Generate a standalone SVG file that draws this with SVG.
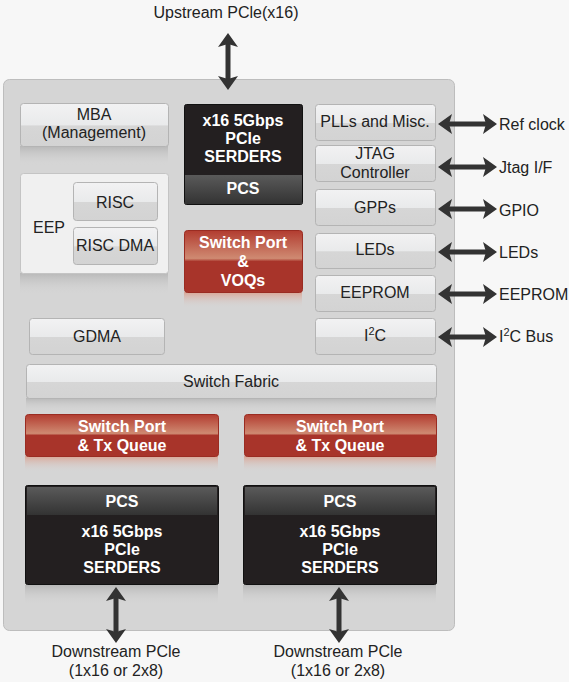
<svg xmlns="http://www.w3.org/2000/svg" width="569" height="682" viewBox="0 0 569 682">
<defs>
<style>
text{font-family:"Liberation Sans",Arial,sans-serif;font-size:16px;text-anchor:middle;fill:#222}
.w{fill:#fff;font-weight:bold}
.lbl{text-anchor:start}
.gbox{fill:url(#gray);stroke:#b4b4b4;stroke-width:1}
.rbox{fill:url(#red);stroke:#9a2c22;stroke-width:1}
.bbox{fill:#231f20;stroke:#111;stroke-width:1}
.arr{stroke:#333;stroke-width:5;fill:none;marker-start:url(#ah);marker-end:url(#ah)}
.refl{fill:url(#refl)}
.reflr{fill:url(#reflr)}
</style>
<linearGradient id="gray" x1="0" y1="0" x2="0" y2="1">
<stop offset="0" stop-color="#f2f2f3"/><stop offset="0.5" stop-color="#e9eaeb"/><stop offset="0.52" stop-color="#d6d6d6"/><stop offset="1" stop-color="#d3d3d3"/>
</linearGradient>
<linearGradient id="red" x1="0" y1="0" x2="0" y2="1">
<stop offset="0" stop-color="#b23c30"/><stop offset="0.45" stop-color="#cf8a72"/><stop offset="0.5" stop-color="#a8342a"/><stop offset="1" stop-color="#a8342a"/>
</linearGradient>
<linearGradient id="pcs" x1="0" y1="0" x2="0" y2="1">
<stop offset="0" stop-color="#5a5a5a"/><stop offset="1" stop-color="#333"/>
</linearGradient>
<linearGradient id="refl" x1="0" y1="0" x2="0" y2="1">
<stop offset="0" stop-color="#b8b8b8"/><stop offset="1" stop-color="#d6d6d6" stop-opacity="0"/>
</linearGradient>
<linearGradient id="reflr" x1="0" y1="0" x2="0" y2="1">
<stop offset="0" stop-color="#d9a595"/><stop offset="1" stop-color="#d6d6d6" stop-opacity="0"/>
</linearGradient>
<marker id="ah" viewBox="0 0 14 20" markerWidth="14" markerHeight="20" refX="4" refY="10" orient="auto-start-reverse" markerUnits="userSpaceOnUse">
<path d="M0,0 L14,10 L0,20 L3,10 Z" fill="#333"/>
</marker>
</defs>
<rect x="0" y="0" width="569" height="682" fill="#f7f7f7"/>
<g id="chip">
<rect x="3.5" y="79.5" width="451" height="551" rx="6" fill="#d5d5d5" stroke="#bdbdbd"/>
</g>
<g id="mba">
<rect class="refl" x="20" y="146" width="148" height="20"/>
<rect class="gbox" x="20.5" y="103.5" width="148" height="43" rx="3"/>
<text x="94" y="120">MBA</text><text x="94" y="138">(Management)</text>
</g>
<g id="serdes-up">
<rect class="bbox" x="184.5" y="104.5" width="118" height="100" rx="2"/>
<rect x="185" y="175" width="117" height="29" fill="url(#pcs)"/>
<text class="w" x="243" y="126">x16 5Gbps</text><text class="w" x="243" y="144">PCle</text><text class="w" x="243" y="162">SERDERS</text>
<text class="w" x="243" y="194">PCS</text>
</g>
<g id="eep">
<rect class="refl" x="20" y="273" width="148" height="22"/>
<rect x="20.5" y="173.5" width="148" height="100" rx="3" fill="#f0f0f0" stroke="#c4c4c4"/>
<text x="49" y="233">EEP</text>
<g id="risc"><rect class="gbox" x="73.5" y="182.5" width="84" height="38" rx="3"/><text x="115" y="208">RISC</text></g>
<g id="riscdma"><rect class="gbox" x="73.5" y="227.5" width="84" height="37" rx="3"/><text x="115" y="251">RISC DMA</text></g>
</g>
<g id="voq">
<rect class="reflr" x="184" y="292" width="118" height="16"/>
<rect class="rbox" x="184.5" y="230.5" width="118" height="62" rx="3"/>
<text class="w" x="243" y="248">Switch Port</text><text class="w" x="243" y="267">&amp;</text><text class="w" x="243" y="286">VOQs</text>
</g>
<g id="gdma">
<rect class="gbox" x="29.5" y="318.5" width="135" height="36" rx="3"/><text x="97" y="342">GDMA</text>
</g>
<g id="plls"><rect class="gbox" x="315.5" y="104.5" width="120" height="36" rx="3"/><text x="375" y="127">PLLs and Misc.</text></g>
<g id="jtag"><rect class="gbox" x="315.5" y="145.5" width="120" height="36" rx="3"/><text x="375" y="159">JTAG</text><text x="375" y="178">Controller</text></g>
<g id="gpps"><rect class="gbox" x="315.5" y="189.5" width="120" height="36" rx="3"/><text x="375" y="213">GPPs</text></g>
<g id="leds"><rect class="gbox" x="315.5" y="233.5" width="120" height="35" rx="3"/><text x="375" y="255">LEDs</text></g>
<g id="eeprom"><rect class="gbox" x="315.5" y="275.5" width="120" height="36" rx="3"/><text x="375" y="298">EEPROM</text></g>
<g id="i2c"><rect class="gbox" x="315.5" y="318.5" width="120" height="36" rx="3"/><text x="375" y="341">I<tspan dy="-6" font-size="11">2</tspan><tspan dy="6">C</tspan></text></g>
<g id="fabric">
<rect class="refl" x="26" y="398" width="410" height="14"/>
<rect class="gbox" x="26.5" y="364.5" width="410" height="34" rx="3"/><text x="231" y="387">Switch Fabric</text>
</g>
<g id="txq-left">
<rect class="reflr" x="25" y="456" width="193" height="16"/>
<rect class="rbox" x="25.5" y="414.5" width="193" height="42" rx="3"/>
<text class="w" x="122" y="432">Switch Port</text><text class="w" x="122" y="451">&amp; Tx Queue</text>
</g>
<g id="txq-right">
<rect class="reflr" x="244" y="456" width="192" height="16"/>
<rect class="rbox" x="244.5" y="414.5" width="192" height="42" rx="3"/>
<text class="w" x="340" y="432">Switch Port</text><text class="w" x="340" y="451">&amp; Tx Queue</text>
</g>
<g id="serdes-left">
<rect class="refl" x="25" y="585" width="193" height="20"/>
<rect class="bbox" x="25.5" y="485.5" width="193" height="99" rx="2"/>
<rect x="27" y="487" width="190" height="28" fill="url(#pcs)"/>
<text class="w" x="122" y="507">PCS</text>
<text class="w" x="122" y="537">x16 5Gbps</text><text class="w" x="122" y="555">PCle</text><text class="w" x="122" y="573">SERDERS</text>
</g>
<g id="serdes-right">
<rect class="refl" x="243" y="585" width="193" height="20"/>
<rect class="bbox" x="243.5" y="485.5" width="193" height="99" rx="2"/>
<rect x="245" y="487" width="190" height="28" fill="url(#pcs)"/>
<text class="w" x="340" y="507">PCS</text>
<text class="w" x="340" y="537">x16 5Gbps</text><text class="w" x="340" y="555">PCle</text><text class="w" x="340" y="573">SERDERS</text>
</g>
<g id="connectors">
<line class="arr" x1="228" y1="43" x2="228" y2="80"/>
<line class="arr" x1="448" y1="124" x2="487" y2="124"/>
<line class="arr" x1="448" y1="167" x2="487" y2="167"/>
<line class="arr" x1="448" y1="209" x2="487" y2="209"/>
<line class="arr" x1="448" y1="252" x2="487" y2="252"/>
<line class="arr" x1="448" y1="294" x2="487" y2="294"/>
<line class="arr" x1="448" y1="337" x2="487" y2="337"/>
<line class="arr" x1="116" y1="597" x2="116" y2="633"/>
<line class="arr" x1="339" y1="597" x2="339" y2="633"/>
</g>
<g id="labels">
<text x="226" y="18">Upstream PCle(x16)</text>
<text class="lbl" x="499" y="130">Ref clock</text>
<text class="lbl" x="499" y="173">Jtag I/F</text>
<text class="lbl" x="499" y="216">GPIO</text>
<text class="lbl" x="499" y="258">LEDs</text>
<text class="lbl" x="499" y="300">EEPROM</text>
<text class="lbl" x="499" y="342">I<tspan dy="-6" font-size="11">2</tspan><tspan dy="6">C Bus</tspan></text>
<text x="116" y="657">Downstream PCle</text><text x="116" y="676">(1x16 or 2x8)</text>
<text x="338" y="657">Downstream PCle</text><text x="338" y="676">(1x16 or 2x8)</text>
</g>
</svg>
